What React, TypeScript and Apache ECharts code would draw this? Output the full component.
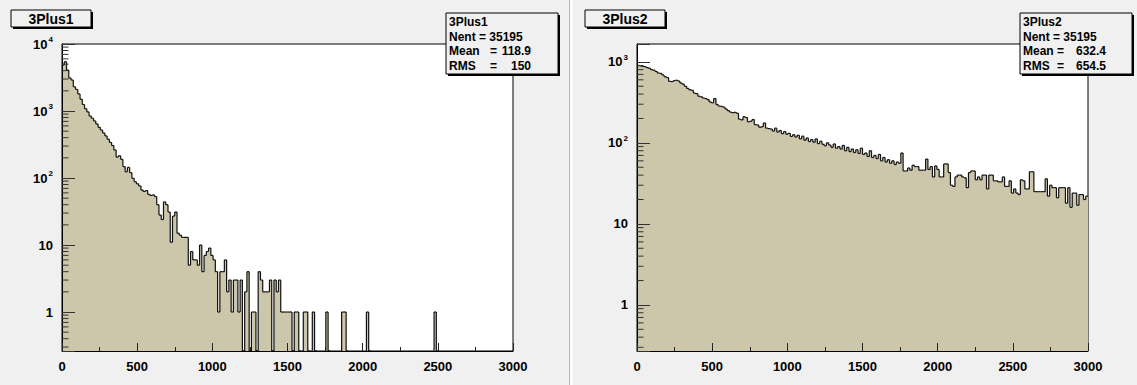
import React, { useEffect, useRef } from "react";
import * as echarts from "echarts";

// ---- data ----
const BIN_WIDTH = 15;
const X_MIN = 0;
const X_MAX = 3000;
const X_INTERVAL = 500;

const counts1 = [
  4860, 5450, 4090, 3110, 2900, 2300, 2100, 1800, 1500, 1250,
  1080, 970, 840, 780, 710, 640, 570, 520, 470, 425,
  380, 340, 305, 262, 205, 215, 190, 148, 124, 144,
  120, 99, 88, 82, 76, 66, 63, 65, 57, 55,
  56, 53, 40, 28, 24, 44, 40, 31, 11, 27,
  31, 15, 14, 13, 13, 13, 5, 8, 6, 6,
  5, 10, 4, 7, 8, 9, 7, 6, 4, 1,
  4, 4, 6, 2, 3, 1, 3, 3, 1, 3,
  0, 2, 4, 0, 1, 1, 0, 4, 3, 2,
  2, 2, 3, 0, 3, 2, 3, 1, 1, 1,
  1, 1, 0, 1, 1, 0, 0, 1, 1, 0,
  0, 1, 0, 0, 0, 0, 0, 1, 0, 0,
  0, 0, 0, 0, 1, 1, 0, 0, 0, 0,
  0, 0, 0, 0, 0, 1, 0, 0, 0, 0,
  0, 0, 0, 0, 0, 0, 0, 0, 0, 0,
  0, 0, 0, 0, 0, 0, 0, 0, 0, 0,
  0, 0, 0, 0, 0, 1, 0, 0, 0, 0,
  0, 0, 0, 0, 0, 0, 0, 0, 0, 0,
  0, 0, 0, 0, 0, 0, 0, 0, 0, 0,
  0, 0, 0, 0, 0, 0, 0, 0, 0, 0,
];

const counts2 = [
  905, 893, 880, 872, 850, 835, 800, 790, 760, 728,
  720, 690, 655, 640, 575, 570, 585, 592, 580, 548,
  530, 498, 470, 452, 445, 412, 405, 376, 370, 358,
  352, 342, 320, 312, 352, 298, 285, 282, 276, 262,
  250, 240, 236, 238, 232, 196, 192, 210, 205, 182,
  185, 194, 168, 166, 156, 158, 176, 152, 150, 148,
  140, 152, 136, 142, 130, 138, 128, 131, 120, 126,
  118, 124, 112, 121, 108, 115, 104, 110, 102, 112,
  98, 105, 96, 92, 100, 94, 88, 97, 86, 90,
  84, 93, 80, 88, 78, 84, 76, 82, 74, 86,
  72, 75, 68, 80, 66, 70, 64, 72, 60, 66,
  58, 62, 56, 60, 54, 58, 56, 75, 45, 45,
  49, 46, 53, 51, 51, 46, 46, 46, 63, 47,
  51, 38, 52, 47, 38, 38, 55, 55, 43, 30,
  29, 38, 40, 40, 38, 37, 28, 43, 45, 45,
  35, 38, 35, 40, 40, 27, 40, 40, 34, 34,
  33, 33, 38, 29, 29, 34, 24, 27, 24, 23,
  35, 34, 27, 27, 44, 44, 25, 25, 25, 25,
  25, 36, 22, 30, 28, 28, 21, 28, 28, 28,
  18, 28, 16, 24, 24, 17, 23, 23, 20, 22,
];

const yRange1 = [0.262, 10000];
const yRange2 = [0.27, 1660];

const minorTicks1 = [
  0.3, 0.4, 0.5, 0.6, 0.7, 0.8, 0.9,
  2, 3, 4, 5, 6, 7, 8, 9,
  20, 30, 40, 50, 60, 70, 80, 90,
  200, 300, 400, 500, 600, 700, 800, 900,
  2000, 3000, 4000, 5000, 6000, 7000, 8000, 9000,
];
const minorTicks2 = [
  0.3, 0.4, 0.5, 0.6, 0.7, 0.8, 0.9,
  2, 3, 4, 5, 6, 7, 8, 9,
  20, 30, 40, 50, 60, 70, 80, 90,
  200, 300, 400, 500, 600, 700, 800, 900,
];

const titles = ["3Plus1", "3Plus2"];
const statNames = ["3Plus1", "3Plus2"];
const statNent = ["35195", "35195"];
const statMean = ["118.9", "632.4"];
const statRms = ["150", "654.5"];

// ---- style ----
const FONT = "'Liberation Sans', Arial, Helvetica, sans-serif";
const FILL = "#ccc6aa";
const PAD_BG = "#f0f0f0";

function rows(counts: number[]) {
  return counts.map((c, i) => [
    X_MIN + i * BIN_WIDTH,
    X_MIN + (i + 1) * BIN_WIDTH,
    c,
    i > 0 ? counts[i - 1] : 0,
  ]);
}

function logLabel(v: number) {
  if (!(v > 0)) return "";
  const e = Math.round(Math.log10(v));
  const p = Math.pow(10, e);
  if (Math.abs(v - p) > p * 1e-6) return "";
  if (e === 0) return "1";
  if (e === 1) return "10";
  return "{b|10}{s|" + e + "}";
}

function panelSeries(k: number, counts: number[], yMin: number, minor: number[]) {
  const data = rows(counts);
  return [
    {
      // filled area of the histogram, one polygon built from every bin through the axes
      type: "custom",
      xAxisIndex: k,
      yAxisIndex: k,
      clip: true,
      z: 2,
      silent: true,
      data,
      encode: { x: [0, 1], y: 2 },
      renderItem: (params: any, api: any) => {
        if (params.dataIndex !== 0) return null;
        const pts: number[][] = [];
        pts.push(api.coord([data[0][0], yMin]));
        for (const r of data) {
          const lvl = r[2] > 0 ? r[2] : yMin;
          pts.push(api.coord([r[0], lvl]));
          pts.push(api.coord([r[1], lvl]));
        }
        pts.push(api.coord([data[data.length - 1][1], yMin]));
        return { type: "polygon", shape: { points: pts }, style: { fill: FILL } };
      },
    },
    {
      type: "custom",
      xAxisIndex: k,
      yAxisIndex: k,
      clip: true,
      z: 3,
      silent: true,
      data,
      encode: { x: [0, 1], y: 2 },
      renderItem: (params: any, api: any) => {
        const c = api.value(2);
        const pc = api.value(3);
        const lvl = c > 0 ? c : yMin;
        const prev = pc > 0 ? pc : yMin;
        if (!(c > 0) && !(pc > 0)) return null;
        const x0 = api.value(0);
        const x1 = api.value(1);
        const a = api.coord([x0, prev]);
        const b = api.coord([x0, lvl]);
        const d = api.coord([x1, lvl]);
        const st = { stroke: "#111", lineWidth: 1.2 };
        return {
          type: "group",
          children: [
            { type: "line", shape: { x1: a[0], y1: a[1], x2: b[0], y2: b[1] }, style: st },
            { type: "line", shape: { x1: b[0], y1: b[1], x2: d[0], y2: d[1] }, style: st },
          ],
        };
      },
    },
    {
      type: "custom",
      xAxisIndex: k,
      yAxisIndex: k,
      clip: false,
      z: 12,
      silent: true,
      data: minor.map((v) => [X_MIN, v]),
      encode: { x: 0, y: 1 },
      renderItem: (params: any, api: any) => {
        const p = api.coord([api.value(0), api.value(1)]);
        return {
          type: "line",
          shape: { x1: p[0], y1: p[1], x2: p[0] + 6.5, y2: p[1] },
          style: { stroke: "#333", lineWidth: 1 },
        };
      },
    },
  ];
}

function boxWithShadow(x: number, y: number, w: number, h: number) {
  return [
    { type: "rect", shape: { x: x + 2, y: y + 2, width: w, height: h }, style: { fill: "#000" }, z: 100 },
    { type: "rect", shape: { x, y, width: w, height: h }, style: { fill: PAD_BG, stroke: "#000", lineWidth: 1 }, z: 101 },
  ];
}

function txt(x: number, y: number, text: string, size: number, align: string = "left") {
  return {
    type: "text",
    x,
    y,
    z: 102,
    style: {
      text,
      fill: "#000",
      font: `bold ${size}px ${FONT}`,
      textAlign: align,
      textVerticalAlign: "middle",
    },
  };
}

function statsBox(k: number, x: number, eqX: number, valX: number) {
  const y = 13;
  return [
    ...boxWithShadow(x, y, 112, 61),
    txt(x + 3, y + 9, statNames[k], 12),
    txt(x + 3, y + 23.5, "Nent = " + statNent[k], 12),
    txt(x + 3, y + 38, "Mean", 12),
    txt(eqX, y + 38, "=", 12),
    txt(valX, y + 38, statMean[k], 12, "right"),
    txt(x + 3, y + 52.5, "RMS", 12),
    txt(eqX, y + 52.5, "=", 12),
    txt(valX, y + 52.5, statRms[k], 12, "right"),
  ];
}

function titleBox(k: number, x: number) {
  return [...boxWithShadow(x, 10, 80, 17), txt(x + 40, 19, titles[k], 14, "center")];
}

function xAxis(k: number) {
  return {
    type: "value",
    gridIndex: k,
    min: X_MIN,
    max: X_MAX,
    interval: X_INTERVAL,
    z: 10,
    axisLine: { show: true, lineStyle: { color: "#000", width: 1 } },
    axisTick: { show: true, inside: true, length: 8, lineStyle: { color: "#222", width: 1 } },
    minorTick: { show: true, splitNumber: 2, length: 4, lineStyle: { color: "#222", width: 1 } },
    splitLine: { show: false },
    minorSplitLine: { show: false },
    axisLabel: {
      color: "#000",
      fontFamily: FONT,
      fontWeight: "bold",
      fontSize: 13,
      margin: 9,
      formatter: (v: number) => String(v),
    },
  };
}

function yAxis(k: number, range: number[]) {
  return {
    type: "log",
    logBase: 10,
    gridIndex: k,
    min: range[0],
    max: range[1],
    z: 10,
    axisLine: { show: true, lineStyle: { color: "#000", width: 1 } },
    axisTick: { show: true, inside: true, length: 13, lineStyle: { color: "#333", width: 1 } },
    minorTick: { show: false },
    splitLine: { show: false },
    minorSplitLine: { show: false },
    axisLabel: {
      color: "#000",
      fontFamily: FONT,
      fontWeight: "bold",
      fontSize: 13,
      margin: 9,
      formatter: logLabel,
      rich: {
        b: { fontFamily: FONT, fontWeight: "bold", fontSize: 13, color: "#000", lineHeight: 16 },
        s: { fontFamily: FONT, fontWeight: "bold", fontSize: 8, color: "#000", lineHeight: 16, padding: [0, 0, 9, 1] },
      },
    },
  };
}

export default function App() {
  const ref = useRef<HTMLDivElement>(null);
  useEffect(() => {
    document.body.style.margin = "0";
    if (!ref.current) return;
    const chart = echarts.init(ref.current, null, { renderer: "svg" });
    chart.setOption({
      animation: false,
      backgroundColor: PAD_BG,
      grid: [
        { left: 62, top: 44, width: 451, height: 307, show: true, backgroundColor: "#fff", borderColor: "#000", borderWidth: 1, outerBoundsMode: "none" },
        { left: 637, top: 44, width: 451, height: 307, show: true, backgroundColor: "#fff", borderColor: "#000", borderWidth: 1, outerBoundsMode: "none" },
      ],
      xAxis: [xAxis(0), xAxis(1)],
      yAxis: [yAxis(0, yRange1), yAxis(1, yRange2)],
      series: [
        ...panelSeries(0, counts1, yRange1[0], minorTicks1),
        ...panelSeries(1, counts2, yRange2[0], minorTicks2),
      ],
      graphic: [
        { type: "line", shape: { x1: 569.5, y1: 0, x2: 569.5, y2: 385 }, style: { stroke: "#b8b8b8", lineWidth: 1 }, z: 99 },
        { type: "line", shape: { x1: 571.5, y1: 0, x2: 571.5, y2: 385 }, style: { stroke: "#ffffff", lineWidth: 2 }, z: 99 },
        ...titleBox(0, 11),
        ...titleBox(1, 585),
        ...statsBox(0, 446, 490, 531),
        ...statsBox(1, 1020, 1057, 1106),
      ],
    });
    return () => chart.dispose();
  }, []);
  return <div ref={ref} style={{ width: 1137, height: 385 }} />;
}
